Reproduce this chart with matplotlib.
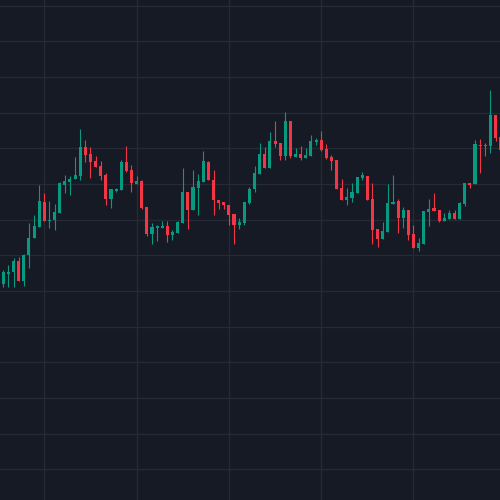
import numpy as np
import matplotlib
matplotlib.use('Agg')
import matplotlib.pyplot as plt

# OHLC per session (98 candles)
opens = [101.0, 102.4, 102.6, 104.2, 101.4, 105.1, 107.5, 109.0, 112.5, 109.8,
         110.0, 111.0, 114.9, 115.3, 115.7, 116.1, 120.2, 119.2, 118.2, 117.5,
         116.3, 112.9, 114.0, 114.2, 118.1, 117.0, 115.0, 115.4, 111.8, 108.0,
         108.9, 108.8, 109.1, 107.9, 108.1, 109.5, 113.9, 111.3, 114.5, 115.3,
         118.1, 115.6, 112.8, 112.5, 112.1, 110.8, 109.2, 109.5, 112.3, 114.3,
         116.4, 119.2, 117.2, 121.0, 120.7, 118.9, 123.8, 118.8, 119.2, 118.6,
         118.9, 120.9, 121.2, 119.9, 118.8, 118.4, 114.4, 112.8, 113.0, 113.7,
         115.8, 116.1, 112.9, 108.7, 107.3, 108.3, 112.2, 112.6, 110.2, 111.4,
         108.0, 106.0, 106.6, 111.1, 111.6, 111.4, 109.8, 110.1, 110.9, 110.1,
         112.2, 115.1, 115.0, 120.5, 120.5, 120.3, 124.7, 121.6]
highs = [103.0, 103.6, 104.6, 104.8, 105.2, 109.5, 110.7, 114.9, 113.7, 112.6,
         112.2, 115.3, 116.3, 116.1, 118.8, 122.7, 121.2, 120.2, 118.9, 118.2,
         116.5, 114.3, 114.4, 118.4, 120.3, 117.7, 116.1, 115.5, 111.8, 109.5,
         109.2, 109.8, 109.8, 108.6, 109.8, 117.2, 113.9, 117.0, 116.4, 119.6,
         118.2, 117.0, 112.8, 112.5, 112.1, 110.8, 110.3, 112.5, 114.6, 117.5,
         120.7, 120.2, 122.3, 123.8, 120.7, 125.1, 123.8, 120.0, 120.3, 120.0,
         121.9, 121.5, 122.4, 120.6, 119.1, 118.4, 115.7, 114.4, 115.1, 116.0,
         116.7, 116.1, 115.1, 108.7, 109.7, 115.0, 116.3, 112.9, 111.8, 111.4,
         109.3, 107.4, 111.2, 112.9, 113.7, 111.4, 110.9, 111.4, 111.4, 112.5,
         115.1, 115.1, 121.2, 121.3, 120.7, 128.2, 124.7, 121.6]
lows = [100.6, 100.6, 100.5, 101.4, 100.7, 103.2, 107.4, 109.0, 109.8, 108.8,
        108.5, 111.0, 113.8, 113.4, 115.7, 115.6, 118.1, 115.8, 117.4, 115.6,
        112.1, 111.6, 113.9, 114.1, 116.7, 113.9, 115.0, 111.5, 107.7, 106.6,
        107.0, 108.8, 106.9, 107.2, 108.1, 109.5, 108.7, 111.3, 110.7, 115.3,
        115.5, 110.6, 111.5, 111.5, 109.2, 106.6, 108.7, 109.3, 112.2, 113.9,
        116.4, 117.2, 117.2, 120.2, 118.4, 118.4, 118.6, 118.8, 118.4, 118.6,
        118.9, 120.5, 119.6, 118.5, 117.0, 114.3, 112.8, 112.1, 112.5, 113.7,
        115.6, 112.8, 106.6, 106.2, 107.3, 108.3, 112.2, 108.1, 108.8, 107.2,
        106.0, 105.6, 106.6, 109.1, 111.2, 109.7, 109.8, 110.1, 110.1, 110.1,
        111.9, 114.4, 115.0, 116.5, 118.9, 119.3, 121.0, 119.8]
closes = [102.6, 102.7, 104.2, 101.4, 105.1, 107.5, 109.1, 112.6, 109.8, 110.0,
          111.1, 115.1, 115.4, 115.7, 116.3, 120.2, 119.1, 118.1, 117.4, 116.1,
          112.9, 114.3, 114.3, 118.1, 116.8, 115.1, 115.4, 111.6, 108.0, 109.0,
          109.0, 109.1, 107.9, 108.3, 109.7, 113.9, 111.3, 114.6, 115.4, 118.2,
          115.5, 112.7, 112.3, 112.0, 110.7, 109.2, 109.7, 112.5, 114.3, 116.5,
          119.2, 117.2, 121.0, 120.6, 118.9, 123.8, 118.9, 119.2, 118.6, 119.1,
          121.0, 121.2, 119.8, 118.6, 118.2, 114.3, 112.8, 113.2, 113.9, 116.0,
          116.2, 112.8, 108.6, 107.3, 108.4, 112.3, 112.5, 110.2, 111.4, 107.9,
          106.0, 106.7, 111.2, 111.5, 111.2, 109.8, 110.2, 110.9, 110.1, 112.3,
          115.1, 114.9, 120.6, 120.3, 120.3, 124.7, 121.5, 119.8]

price_grid = list(range(75, 145, 5))
date_grid = [8, 26, 44, 62, 80]

BG = '#161a25'
GRID = '#262a36'
UP = '#089981'
DOWN = '#f23645'

fig = plt.figure(figsize=(5, 5), dpi=100, facecolor=BG)
ax = fig.add_axes([0, 0, 1, 1])
ax.set_facecolor(BG)

idx = np.arange(len(opens))
o = np.array(opens)
h = np.array(highs)
l = np.array(lows)
c = np.array(closes)
colors = np.where(c >= o, UP, DOWN)

# wicks then bodies
ax.vlines(idx, l, h, colors=colors, linewidth=0.8, zorder=2)
body_h = np.maximum(np.abs(c - o), 0.15)
ax.bar(idx, body_h, bottom=np.minimum(o, c), width=0.6, color=colors,
       linewidth=0, zorder=3)

ax.set_xlim(-0.64, 96.87)
ax.set_ylim(70.7, 140.8)
ax.set_xticks(date_grid)
ax.set_yticks(price_grid)
ax.grid(True, color=GRID, linewidth=0.9)
ax.set_axisbelow(True)
ax.tick_params(length=0, labelbottom=False, labelleft=False)
for s in ax.spines.values():
    s.set_visible(False)

plt.savefig('out.png', dpi=100, facecolor=BG)
plt.close()
